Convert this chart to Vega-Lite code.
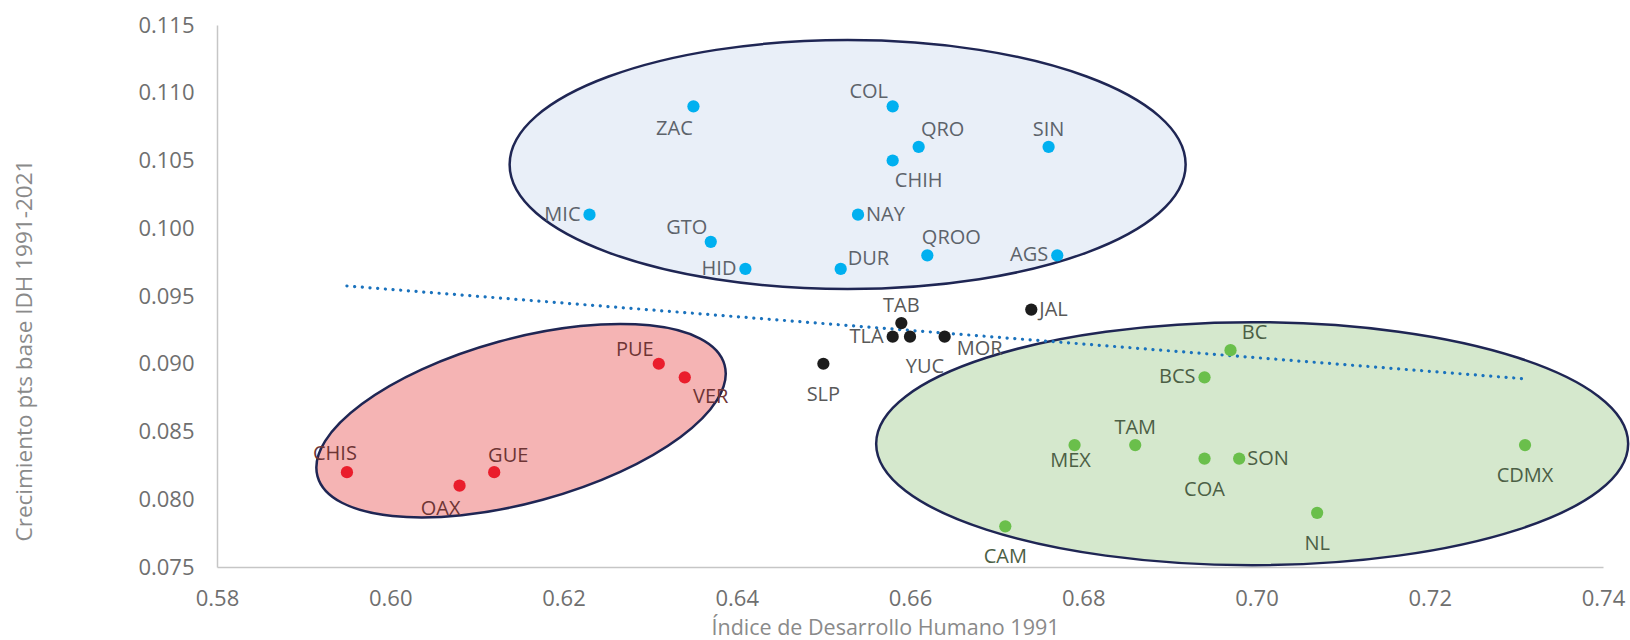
{
  "$schema": "https://vega.github.io/schema/vega-lite/v6.json",
  "width": 1386,
  "height": 542,
  "autosize": {"type": "none"},
  "padding": {"left": 217, "top": 25, "right": 27, "bottom": 73},
  "background": "white",
  "config": {"view": {"stroke": null}, "font": "Open Sans"},
  "datasets": {
    "estados": [
      {"estado": "ZAC", "idh": 0.635, "crec": 0.109, "grupo": "alto_crecimiento", "pos": "SW"},
      {"estado": "COL", "idh": 0.658, "crec": 0.109, "grupo": "alto_crecimiento", "pos": "NW"},
      {"estado": "QRO", "idh": 0.661, "crec": 0.106, "grupo": "alto_crecimiento", "pos": "NE"},
      {"estado": "SIN", "idh": 0.676, "crec": 0.106, "grupo": "alto_crecimiento", "pos": "N"},
      {"estado": "CHIH", "idh": 0.658, "crec": 0.105, "grupo": "alto_crecimiento", "pos": "SE"},
      {"estado": "MIC", "idh": 0.623, "crec": 0.101, "grupo": "alto_crecimiento", "pos": "W"},
      {"estado": "NAY", "idh": 0.654, "crec": 0.101, "grupo": "alto_crecimiento", "pos": "E"},
      {"estado": "GTO", "idh": 0.637, "crec": 0.099, "grupo": "alto_crecimiento", "pos": "NW"},
      {"estado": "QROO", "idh": 0.662, "crec": 0.098, "grupo": "alto_crecimiento", "pos": "NE"},
      {"estado": "AGS", "idh": 0.677, "crec": 0.098, "grupo": "alto_crecimiento", "pos": "W"},
      {"estado": "HID", "idh": 0.641, "crec": 0.097, "grupo": "alto_crecimiento", "pos": "W"},
      {"estado": "DUR", "idh": 0.652, "crec": 0.097, "grupo": "alto_crecimiento", "pos": "ENE"},
      {"estado": "TAB", "idh": 0.659, "crec": 0.093, "grupo": "intermedio", "pos": "N"},
      {"estado": "JAL", "idh": 0.674, "crec": 0.094, "grupo": "intermedio", "pos": "E"},
      {"estado": "TLA", "idh": 0.658, "crec": 0.092, "grupo": "intermedio", "pos": "W"},
      {"estado": "YUC", "idh": 0.660, "crec": 0.092, "grupo": "intermedio", "pos": "SSE"},
      {"estado": "MOR", "idh": 0.664, "crec": 0.092, "grupo": "intermedio", "pos": "ESE"},
      {"estado": "SLP", "idh": 0.650, "crec": 0.090, "grupo": "intermedio", "pos": "S2"},
      {"estado": "PUE", "idh": 0.631, "crec": 0.090, "grupo": "bajo_idh", "pos": "NW"},
      {"estado": "VER", "idh": 0.634, "crec": 0.089, "grupo": "bajo_idh", "pos": "SE"},
      {"estado": "CHIS", "idh": 0.595, "crec": 0.082, "grupo": "bajo_idh", "pos": "NNW"},
      {"estado": "OAX", "idh": 0.608, "crec": 0.081, "grupo": "bajo_idh", "pos": "SW"},
      {"estado": "GUE", "idh": 0.612, "crec": 0.082, "grupo": "bajo_idh", "pos": "NNE"},
      {"estado": "BC", "idh": 0.697, "crec": 0.091, "grupo": "alto_idh", "pos": "NE"},
      {"estado": "BCS", "idh": 0.694, "crec": 0.089, "grupo": "alto_idh", "pos": "W"},
      {"estado": "MEX", "idh": 0.679, "crec": 0.084, "grupo": "alto_idh", "pos": "S"},
      {"estado": "TAM", "idh": 0.686, "crec": 0.084, "grupo": "alto_idh", "pos": "N"},
      {"estado": "COA", "idh": 0.694, "crec": 0.083, "grupo": "alto_idh", "pos": "S2"},
      {"estado": "SON", "idh": 0.698, "crec": 0.083, "grupo": "alto_idh", "pos": "E"},
      {"estado": "CDMX", "idh": 0.731, "crec": 0.084, "grupo": "alto_idh", "pos": "S2"},
      {"estado": "NL", "idh": 0.707, "crec": 0.079, "grupo": "alto_idh", "pos": "S2"},
      {"estado": "CAM", "idh": 0.671, "crec": 0.078, "grupo": "alto_idh", "pos": "S2"}
    ],
    "elipses": [
      {"grupo": "alto_crecimiento", "idh": 0.6528, "crec": 0.1047},
      {"grupo": "bajo_idh", "idh": 0.6151, "crec": 0.0858},
      {"grupo": "alto_idh", "idh": 0.6995, "crec": 0.0841}
    ]
  },
  "data": {"name": "estados"},
  "encoding": {
    "x": {
      "field": "idh", "type": "quantitative",
      "scale": {"domain": [0.58, 0.74], "nice": false, "zero": false},
      "axis": {
        "title": "Índice de Desarrollo Humano 1991",
        "values": [0.58, 0.6, 0.62, 0.64, 0.66, 0.68, 0.7, 0.72, 0.74],
        "format": ".2f", "grid": false, "ticks": false, "tickSize": 0,
        "domainColor": "#c6c6c6", "domainWidth": 1.5,
        "labelFont": "Open Sans", "labelFontSize": 22, "labelColor": "#6f6f6f",
        "labelPadding": 21, "labelFlush": false, "labelOverlap": false,
        "titleFont": "Open Sans", "titleFontSize": 21.5, "titleColor": "#8a8a8a", "titleFontWeight": "normal",
        "titleX": 668, "titleY": 61, "titleBaseline": "middle", "titleAlign": "center"
      }
    },
    "y": {
      "field": "crec", "type": "quantitative",
      "scale": {"domain": [0.075, 0.115], "nice": false, "zero": false},
      "axis": {
        "title": "Crecimiento pts base IDH 1991-2021",
        "values": [0.075, 0.08, 0.085, 0.09, 0.095, 0.1, 0.105, 0.11, 0.115],
        "format": ".3f", "grid": false, "ticks": false, "tickSize": 0,
        "domainColor": "#c6c6c6", "domainWidth": 1.5,
        "labelFont": "Open Sans", "labelFontSize": 22, "labelColor": "#6f6f6f",
        "labelPadding": 23, "labelFlush": false, "labelOverlap": false,
        "titleFont": "Open Sans", "titleFontSize": 22.5, "titleColor": "#8a8a8a", "titleFontWeight": "normal",
        "titleX": -193, "titleY": 325, "titleAngle": -90, "titleBaseline": "middle", "titleAlign": "center"
      }
    }
  },
  "layer": [
    {
      "data": {"name": "elipses"},
      "transform": [{"filter": "datum.grupo === 'alto_crecimiento'"}],
      "mark": {"type": "point", "shape": "M-1,0A1,0.3683,0,1,0,1,0A1,0.3683,0,1,0,-1,0Z", "size": 456976, "filled": true, "fill": "#e9eff8", "stroke": "#1f2654", "strokeWidth": 2.5, "opacity": 1}
    },
    {
      "data": {"name": "elipses"},
      "transform": [{"filter": "datum.grupo === 'bajo_idh'"}],
      "mark": {"type": "point", "shape": "M-1,0A1,0.3886,0,1,0,1,0A1,0.3886,0,1,0,-1,0Z", "size": 178084, "angle": 344.7, "filled": true, "fill": "#f5b4b4", "stroke": "#1f2654", "strokeWidth": 2.5, "opacity": 1}
    },
    {
      "data": {"name": "elipses"},
      "transform": [{"filter": "datum.grupo === 'alto_idh'"}],
      "mark": {"type": "point", "shape": "M-1,0A1,0.3231,0,1,0,1,0A1,0.3231,0,1,0,-1,0Z", "size": 565504, "filled": true, "fill": "#d5e8cd", "stroke": "#1f2654", "strokeWidth": 2.5, "opacity": 1}
    },
    {
      "transform": [{"regression": "crec", "on": "idh"}],
      "mark": {"type": "line", "color": "#1a72bd", "strokeWidth": 3.2, "strokeDash": [0.1, 7.6], "strokeCap": "round"}
    },
    {
      "mark": {"type": "point", "filled": true, "size": 150, "opacity": 1, "strokeWidth": 0},
      "encoding": {
        "color": {
          "field": "grupo", "type": "nominal",
          "scale": {"domain": ["alto_crecimiento", "intermedio", "bajo_idh", "alto_idh"], "range": ["#00b0f0", "#1c1c1c", "#ea1d2c", "#6abf4b"]},
          "legend": null
        }
      }
    },
    {
      "encoding": {
        "text": {"field": "estado"},
        "fill": {
          "field": "grupo", "type": "nominal",
          "scale": {"domain": ["alto_crecimiento", "intermedio", "bajo_idh", "alto_idh"], "range": ["#5d636b", "#595959", "#6e3535", "#4c5f45"]},
          "legend": null
        }
      },
      "layer": [
        {"transform": [{"filter": "datum.pos === 'N'"}], "mark": {"type": "text", "fontSize": 20, "align": "center", "baseline": "middle", "dx": 0, "dy": -17}},
        {"transform": [{"filter": "datum.pos === 'S'"}], "mark": {"type": "text", "fontSize": 20, "align": "center", "baseline": "middle", "dx": -4, "dy": 16}},
        {"transform": [{"filter": "datum.pos === 'S2'"}], "mark": {"type": "text", "fontSize": 20, "align": "center", "baseline": "middle", "dx": 0, "dy": 31}},
        {"transform": [{"filter": "datum.pos === 'E'"}], "mark": {"type": "text", "fontSize": 20, "align": "left", "baseline": "middle", "dx": 8, "dy": 0}},
        {"transform": [{"filter": "datum.pos === 'W'"}], "mark": {"type": "text", "fontSize": 20, "align": "right", "baseline": "middle", "dx": -9, "dy": 0}},
        {"transform": [{"filter": "datum.pos === 'NE'"}], "mark": {"type": "text", "fontSize": 20, "align": "center", "baseline": "middle", "dx": 24, "dy": -17}},
        {"transform": [{"filter": "datum.pos === 'NW'"}], "mark": {"type": "text", "fontSize": 20, "align": "center", "baseline": "middle", "dx": -24, "dy": -14}},
        {"transform": [{"filter": "datum.pos === 'SE'"}], "mark": {"type": "text", "fontSize": 20, "align": "center", "baseline": "middle", "dx": 26, "dy": 20}},
        {"transform": [{"filter": "datum.pos === 'SW'"}], "mark": {"type": "text", "fontSize": 20, "align": "center", "baseline": "middle", "dx": -19, "dy": 23}},
        {"transform": [{"filter": "datum.pos === 'ENE'"}], "mark": {"type": "text", "fontSize": 20, "align": "left", "baseline": "middle", "dx": 7, "dy": -10}},
        {"transform": [{"filter": "datum.pos === 'ESE'"}], "mark": {"type": "text", "fontSize": 20, "align": "left", "baseline": "middle", "dx": 12, "dy": 12}},
        {"transform": [{"filter": "datum.pos === 'SSE'"}], "mark": {"type": "text", "fontSize": 20, "align": "center", "baseline": "middle", "dx": 15, "dy": 30}},
        {"transform": [{"filter": "datum.pos === 'NNW'"}], "mark": {"type": "text", "fontSize": 20, "align": "center", "baseline": "middle", "dx": -12, "dy": -18}},
        {"transform": [{"filter": "datum.pos === 'NNE'"}], "mark": {"type": "text", "fontSize": 20, "align": "center", "baseline": "middle", "dx": 14, "dy": -16}}
      ]
    }
  ]
}
